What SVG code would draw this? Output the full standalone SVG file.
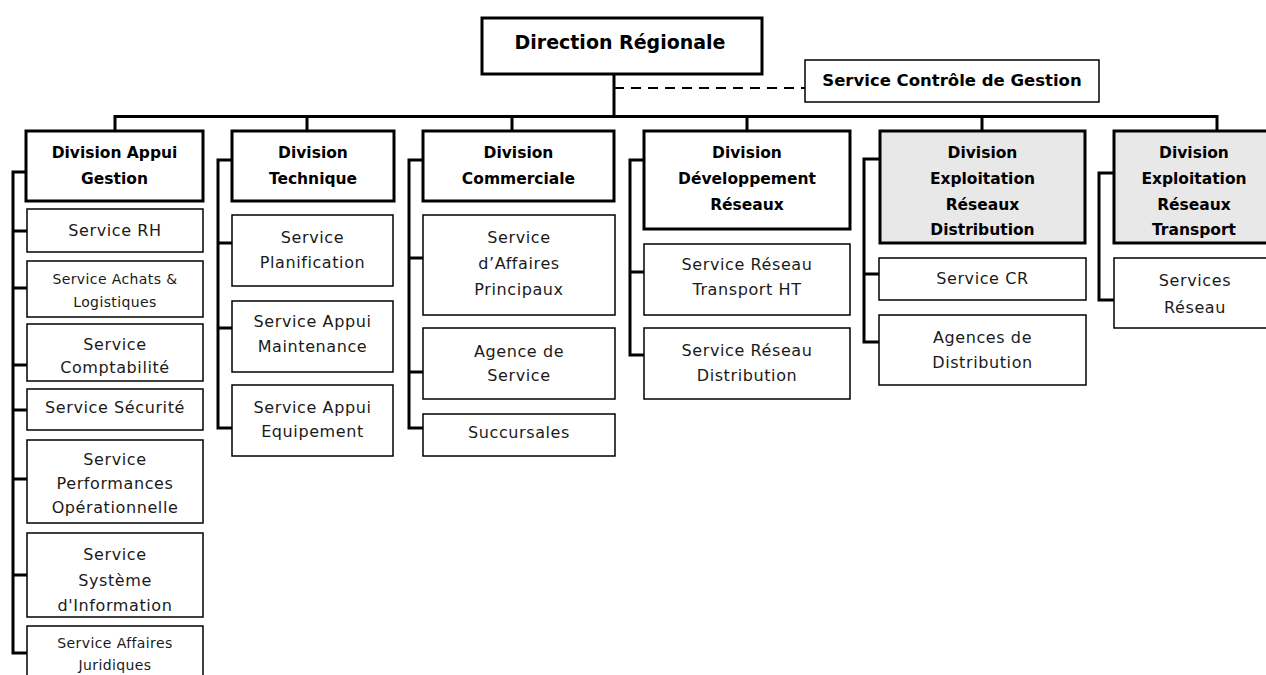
<svg xmlns="http://www.w3.org/2000/svg" width="1266" height="675" viewBox="0 0 1266 675">
<style>
  .bg{fill:#fff}
  .top rect,.div rect{fill:#fff;stroke:#000;stroke-width:3}
  .div.grey rect{fill:#e8e8e8}
  .svc rect{fill:#fff;stroke:#000;stroke-width:1.5}
  text{font-family:"DejaVu Sans","Liberation Sans",sans-serif;text-anchor:middle;dominant-baseline:central}
  .b{font-weight:bold;font-size:15.5px;fill:#000}
  .t{font-weight:bold;font-size:19px;fill:#000}
  .r{font-size:16px;fill:#1a1a1a;letter-spacing:0.6px}
  .s{font-size:14px;fill:#1a1a1a;letter-spacing:0.4px}
  .conn path{fill:none;stroke:#000;stroke-width:3}
  .conn .dash{stroke-width:2;stroke-dasharray:10 7}
</style>
<rect class="bg" x="0" y="0" width="1266" height="675"/>

<g class="conn" id="connectors">
  <path d="M614,74 V116.5"/>
  <path class="dash" d="M614,88 H805"/>
  <path d="M115,131 V116.5 H1217 V131"/>
  <path d="M307,116.5 V131 M512,116.5 V131 M747,116.5 V131 M982,116.5 V131"/>
  <path d="M26,172 H13 V653 H27 M13,231 H27 M13,288 H27 M13,365 H27 M13,410 H27 M13,479 H27 M13,575 H27"/>
  <path d="M232,160 H218 V428 H232 M218,243 H232 M218,328 H232"/>
  <path d="M423,160 H409 V428 H423 M409,258 H423 M409,372 H423"/>
  <path d="M644,160 H630 V355 H644 M630,272 H644"/>
  <path d="M880,159 H864 V342 H879 M864,274 H879"/>
  <path d="M1114,173 H1099 V300 H1114"/>
</g>

<g class="top" id="n-direction">
  <rect x="482" y="18" width="280" height="56"/>
  <text class="t" x="620" y="42">Direction Régionale</text>
</g>
<g class="svc" id="n-controle">
  <rect x="805" y="60" width="294" height="42"/>
  <text class="b" style="font-size:16.5px" x="952" y="80">Service Contrôle de Gestion</text>
</g>

<g class="div" id="n-appui">
  <rect x="26" y="131" width="177" height="70"/>
  <text class="b" x="114.5" y="153">Division  Appui</text>
  <text class="b" x="114.5" y="179">Gestion</text>
</g>
<g class="div" id="n-technique">
  <rect x="232" y="131" width="162" height="70"/>
  <text class="b" x="313" y="153">Division</text>
  <text class="b" x="313" y="179">Technique</text>
</g>
<g class="div" id="n-commerciale">
  <rect x="423" y="131" width="191" height="70"/>
  <text class="b" x="518.5" y="153">Division</text>
  <text class="b" x="518.5" y="179">Commerciale</text>
</g>
<g class="div" id="n-developpement">
  <rect x="644" y="131" width="206" height="98"/>
  <text class="b" x="747" y="153">Division</text>
  <text class="b" x="747" y="179">Développement</text>
  <text class="b" x="747" y="205">Réseaux</text>
</g>
<g class="div grey" id="n-distribution">
  <rect x="880" y="131" width="205" height="112"/>
  <text class="b" x="982.5" y="153">Division</text>
  <text class="b" x="982.5" y="179">Exploitation</text>
  <text class="b" x="982.5" y="205">Réseaux</text>
  <text class="b" x="982.5" y="230">Distribution</text>
</g>
<g class="div grey" id="n-transport">
  <rect x="1114" y="131" width="170" height="112"/>
  <text class="b" x="1194" y="153">Division</text>
  <text class="b" x="1194" y="179">Exploitation</text>
  <text class="b" x="1194" y="205">Réseaux</text>
  <text class="b" x="1194" y="230">Transport</text>
</g>

<g class="svc" id="n-rh"><rect x="27" y="209" width="176" height="43"/><text class="r" x="115" y="230">Service RH</text></g>
<g class="svc" id="n-achats"><rect x="27" y="261" width="176" height="56"/><text class="s" x="115" y="279">Service Achats &amp;</text><text class="s" x="115" y="302">Logistiques</text></g>
<g class="svc" id="n-compta"><rect x="27" y="324" width="176" height="57"/><text class="r" x="115" y="344">Service</text><text class="r" x="115" y="367">Comptabilité</text></g>
<g class="svc" id="n-securite"><rect x="27" y="389" width="176" height="41"/><text class="r" x="115" y="407">Service Sécurité</text></g>
<g class="svc" id="n-perf"><rect x="27" y="440" width="176" height="83"/><text class="r" x="115" y="459">Service</text><text class="r" x="115" y="483">Performances</text><text class="r" x="115" y="507">Opérationnelle</text></g>
<g class="svc" id="n-si"><rect x="27" y="533" width="176" height="84"/><text class="r" x="115" y="554">Service</text><text class="r" x="115" y="580">Système</text><text class="r" x="115" y="605">d'Information</text></g>
<g class="svc" id="n-juridique"><rect x="27" y="626" width="176" height="60"/><text class="s" x="115" y="643">Service Affaires</text><text class="s" x="115" y="665">Juridiques</text></g>

<g class="svc" id="n-planif"><rect x="232" y="215" width="161" height="71"/><text class="r" x="312.5" y="237">Service</text><text class="r" x="312.5" y="262">Planification</text></g>
<g class="svc" id="n-maint"><rect x="232" y="301" width="161" height="71"/><text class="r" x="312.5" y="321">Service Appui</text><text class="r" x="312.5" y="346">Maintenance</text></g>
<g class="svc" id="n-equip"><rect x="232" y="385" width="161" height="71"/><text class="r" x="312.5" y="407">Service Appui</text><text class="r" x="312.5" y="431">Equipement</text></g>

<g class="svc" id="n-affaires"><rect x="423" y="215" width="192" height="100"/><text class="r" x="519" y="237">Service</text><text class="r" x="519" y="263">d’Affaires</text><text class="r" x="519" y="289">Principaux</text></g>
<g class="svc" id="n-agence"><rect x="423" y="328" width="192" height="71"/><text class="r" x="519" y="351">Agence de</text><text class="r" x="519" y="375">Service</text></g>
<g class="svc" id="n-succ"><rect x="423" y="414" width="192" height="42"/><text class="r" x="519" y="432">Succursales</text></g>

<g class="svc" id="n-rtht"><rect x="644" y="244" width="206" height="71"/><text class="r" x="747" y="264">Service Réseau</text><text class="r" x="747" y="289">Transport HT</text></g>
<g class="svc" id="n-rdist"><rect x="644" y="328" width="206" height="71"/><text class="r" x="747" y="350">Service Réseau</text><text class="r" x="747" y="375">Distribution</text></g>

<g class="svc" id="n-cr"><rect x="879" y="258" width="207" height="42"/><text class="r" x="982.5" y="278">Service CR</text></g>
<g class="svc" id="n-agences"><rect x="879" y="315" width="207" height="70"/><text class="r" x="982.5" y="337">Agences de</text><text class="r" x="982.5" y="362">Distribution</text></g>

<g class="svc" id="n-servres"><rect x="1114" y="258" width="170" height="70"/><text class="r" x="1195" y="280">Services</text><text class="r" x="1195" y="307">Réseau</text></g>
</svg>
